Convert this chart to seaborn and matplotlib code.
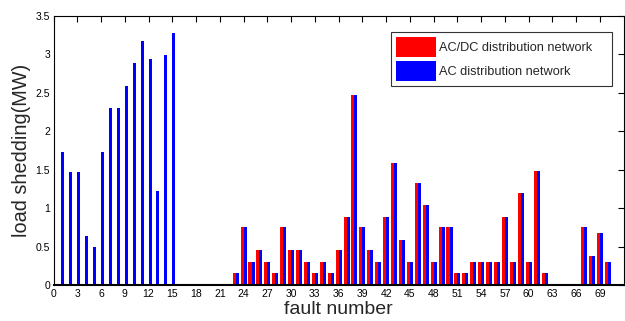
import pandas as pd
import matplotlib
matplotlib.use('Agg')
import matplotlib.pyplot as plt
import seaborn as sns
import numpy as np

# fault numbers 1..71
faults = list(range(1, 72))

# AC distribution network load shedding (MW)
ac_net = [1.73, 1.47, 1.47, 0.64, 0.49, 1.73, 2.30, 2.30, 2.59, 2.88,
          3.17, 2.94, 1.22, 2.99, 3.28, 0.01, 0.01, 0.01, 0.01, 0.01,
          0.01, 0.01, 0.16, 0.75, 0.30, 0.45, 0.30, 0.16, 0.75, 0.45,
          0.45, 0.30, 0.16, 0.30, 0.16, 0.45, 0.89, 2.47, 0.75, 0.45,
          0.30, 0.89, 1.58, 0.59, 0.30, 1.33, 1.04, 0.30, 0.75, 0.75,
          0.16, 0.16, 0.30, 0.30, 0.30, 0.30, 0.89, 0.30, 1.19, 0.30,
          1.48, 0.16, 0.01, 0.01, 0.01, 0.01, 0.75, 0.38, 0.67, 0.30,
          0.01]

# AC/DC distribution network load shedding (MW)
acdc_net = [0.0] * 15 + ac_net[15:]

series_names = ['AC/DC distribution network', 'AC distribution network']
colors = ['#ff0000', '#0000ff']
x_ticks = list(range(0, 72, 3))

df = pd.DataFrame({
    'fault': faults * 2,
    'value': acdc_net + ac_net,
    'network': [series_names[0]] * len(faults) + [series_names[1]] * len(faults),
})

sns.set_style('white')
plt.rcParams['font.family'] = ['Liberation Sans', 'DejaVu Sans']

fig = plt.figure(figsize=(6.25, 3.21), dpi=100)
ax = fig.add_axes([0.0856, 0.112, 0.9124, 0.839])

sns.barplot(data=df, x='fault', y='value', hue='network', native_scale=True,
            palette=colors, saturation=1, width=0.76, gap=0, linewidth=0,
            errorbar=None, ax=ax, legend=True)

ax.set_xlim(0, 72)
ax.set_ylim(0, 3.5)
ax.set_xticks(x_ticks)
ax.set_xticklabels([str(t) for t in x_ticks])
ax.set_yticks(np.arange(0, 3.51, 0.5))
ax.set_yticklabels(['0', '0.5', '1', '1.5', '2', '2.5', '3', '3.5'])
ax.tick_params(direction='in', length=4, width=0.8, labelsize=7.5,
               top=True, right=True, colors='black', pad=2.5)
for s in ax.spines.values():
    s.set_visible(True)
    s.set_color('black')
    s.set_linewidth(0.8)
ax.spines['bottom'].set_linewidth(1.5)

ax.set_xlabel('fault number', fontsize=14, labelpad=2)
ax.set_ylabel('load shedding(MW)', fontsize=14.3, labelpad=3)

leg = ax.legend(loc='upper right', bbox_to_anchor=(0.979, 0.9405), fontsize=9.2,
                handlelength=3.1, handleheight=2.0, frameon=True, fancybox=False,
                borderpad=0.4, labelspacing=0.35, handletextpad=0.3,
                borderaxespad=0)
for t in leg.get_texts():
    t.set_text(t.get_text() + '    ')
leg.get_frame().set_edgecolor('black')
leg.get_frame().set_linewidth(0.8)

fig.savefig('out.png', dpi=100)
